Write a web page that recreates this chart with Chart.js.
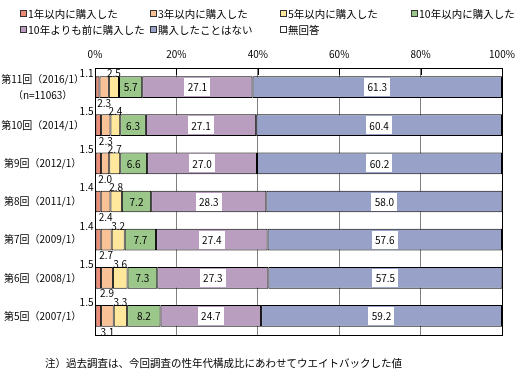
<!DOCTYPE html>
<html><head><meta charset="utf-8">
<script src="https://cdn.jsdelivr.net/npm/chart.js@4/dist/chart.umd.min.js"></script>
<style>html,body{margin:0;padding:0;background:#fff}#wrap{width:531px;height:382px}</style>
</head><body><div id="wrap"><canvas id="c" width="531" height="382"></canvas></div>
<script>
const categories = [['第11回（2016/1）','（n=11063）'], '第10回（2014/1）', '第9回（2012/1）', '第8回（2011/1）', '第7回（2009/1）', '第6回（2008/1）', '第5回（2007/1）'];
const seriesNames = ['1年以内に購入した','3年以内に購入した','5年以内に購入した','10年以内に購入した','10年よりも前に購入した','購入したことはない','無回答'];
const within1 = [1.1, 1.5, 1.5, 1.4, 1.4, 1.5, 1.5];
const within3 = [2.3, 2.3, 2.0, 2.4, 2.7, 2.9, 3.1];
const within5 = [2.5, 2.4, 2.7, 2.8, 3.2, 3.6, 3.3];
const within10 = [5.7, 6.3, 6.6, 7.2, 7.7, 7.3, 8.2];
const before10 = [27.1, 27.1, 27.0, 28.3, 27.4, 27.3, 24.7];
const never = [61.3, 60.4, 60.2, 58.0, 57.6, 57.5, 59.2];
const noAnswer = [0, 0, 0, 0, 0, 0, 0];
const xTickValues = [0, 20, 40, 60, 80, 100];
const noteText = '注）過去調査は、今回調査の性年代構成比にあわせてウエイトバックした値';

const FONT = '"Noto Sans CJK JP", "Noto Sans", sans-serif';
const colors = ['#EC8B76', '#F9C196', '#FFE79B', '#9CC78A', '#B99EC0', '#98A2C8', '#FFFFFF'];
const labelModes = ['aboveLeft', 'below', 'above', 'inside', 'boxed', 'boxed', 'none'];
const seriesData = [within1, within3, within5, within10, before10, never, noAnswer];

const datasets = seriesNames.map((name, i) => ({
  label: name,
  data: seriesData[i],
  backgroundColor: colors[i],
  borderColor: '#000',
  borderWidth: 1,
  borderSkipped: false,
  labelMode: labelModes[i]
}));

const framePlugin = {
  id: 'frame',
  afterDatasetsDraw(chart) {
    const ctx = chart.ctx, a = chart.chartArea, xs = chart.scales.x;
    ctx.save();
    ctx.strokeStyle = '#000';
    ctx.lineWidth = 1;
    ctx.strokeRect(Math.round(a.left) + 0.5, Math.round(a.top) + 0.5, Math.round(a.right - a.left), Math.round(a.bottom - a.top));
    ctx.beginPath();
    xTickValues.slice(1, -1).forEach(v => {
      const x = Math.round(xs.getPixelForValue(v)) + 0.5;
      ctx.moveTo(x, a.top);
      ctx.lineTo(x, a.top + 7);
    });
    ctx.stroke();
    ctx.restore();
  }
};

const labelPlugin = {
  id: 'valueLabels',
  afterDatasetsDraw(chart) {
    const ctx = chart.ctx;
    ctx.save();
    ctx.font = '10px ' + FONT;
    ctx.fillStyle = '#000';
    ctx.textBaseline = 'middle';
    chart.data.datasets.forEach((ds, di) => {
      const meta = chart.getDatasetMeta(di);
      meta.data.forEach((el, j) => {
        const v = ds.data[j];
        const mode = ds.labelMode;
        if (mode === 'none' || !v) return;
        const p = el.getProps(['x', 'y', 'base', 'height'], true);
        const left = Math.min(p.x, p.base), right = Math.max(p.x, p.base);
        const top = p.y - p.height / 2, bottom = p.y + p.height / 2;
        const cx = (left + right) / 2;
        const txt = v.toFixed(1);
        if (mode === 'aboveLeft') {
          ctx.textAlign = 'right';
          ctx.fillText(txt, left - 2, top - 3);
        } else if (mode === 'above') {
          ctx.textAlign = 'center';
          ctx.fillText(txt, cx, top - 3);
        } else if (mode === 'below') {
          ctx.textAlign = 'center';
          ctx.fillText(txt, cx, bottom + 5);
        } else if (mode === 'inside') {
          ctx.textAlign = 'center';
          ctx.fillText(txt, cx, p.y + 0.5);
        } else if (mode === 'boxed') {
          const w = ctx.measureText(txt).width + 7;
          ctx.fillStyle = '#fff';
          ctx.fillRect(Math.round(cx - w / 2), Math.round(p.y - 9), Math.round(w), 18);
          ctx.fillStyle = '#000';
          ctx.textAlign = 'center';
          ctx.fillText(txt, cx, p.y + 0.5);
        }
      });
    });
    ctx.restore();
  }
};

const legendCols = [20, 150, 280, 411];
const legendRows = [14, 30];
const legendPlugin = {
  id: 'gridLegend',
  afterDraw(chart) {
    const ctx = chart.ctx;
    ctx.save();
    ctx.font = '10.5px ' + FONT;
    ctx.textBaseline = 'middle';
    ctx.textAlign = 'left';
    chart.data.datasets.forEach((ds, i) => {
      const x = legendCols[i % 4], y = legendRows[Math.floor(i / 4)];
      ctx.fillStyle = ds.backgroundColor;
      ctx.fillRect(x, y - 3, 6, 6);
      ctx.strokeStyle = '#333';
      ctx.lineWidth = 1;
      ctx.strokeRect(x + 0.5, y - 3.5, 6, 6);
      ctx.fillStyle = '#000';
      ctx.fillText(ds.label, x + 8, y);
    });
    ctx.fillText(noteText, 45, 363);
    ctx.restore();
  }
};

new Chart(document.getElementById('c'), {
  type: 'bar',
  data: { labels: categories, datasets },
  options: {
    indexAxis: 'y',
    responsive: false,
    animation: false,
    devicePixelRatio: 1,
    layout: { padding: { left: 0, right: 29, top: 0, bottom: 47 } },
    categoryPercentage: 1,
    barPercentage: 0.57,
    plugins: { legend: { display: false }, tooltip: { enabled: false } },
    scales: {
      x: {
        position: 'top',
        stacked: true,
        min: 0, max: 100,
        afterFit(s) { s.height = 68; },
        afterBuildTicks(s) { s.ticks = xTickValues.map(v => ({ value: v })); },
        ticks: { callback: v => v + '%', padding: 8, maxRotation: 0, color: '#000', font: { family: FONT, size: 10 } },
        grid: { color: '#808080', drawTicks: false, tickLength: 0 },
        border: { display: false }
      },
      y: {
        stacked: true,
        afterFit(s) { s.width = 95; },
        ticks: { crossAlign: 'center', padding: 11, color: '#000', font: { family: FONT, size: 10, lineHeight: 1.6 } },
        grid: { display: false, drawTicks: false },
        border: { display: false }
      }
    }
  },
  plugins: [framePlugin, labelPlugin, legendPlugin]
});
</script>
</body></html>
